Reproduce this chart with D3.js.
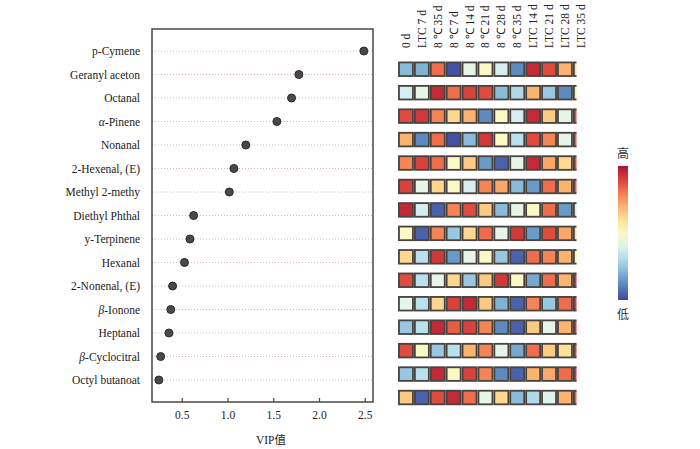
<!DOCTYPE html>
<html lang="zh">
<head>
	<meta charset="utf-8">
	<title>VIP lollipop + heatmap</title>
	<script src="https://d3js.org/d3.v7.min.js"></script>
	<style type="text/css">
		body{ margin:0; background:#fff; }
		svg{ font-family: "Liberation Serif", "Times New Roman", serif; }
	</style>
</head>
<body>
	<svg id="chart" width="700" height="449"></svg>

	<script type="text/javascript">

	// compounds, top to bottom
	var compounds = ["p-Cymene", "Geranyl aceton", "Octanal", "α-Pinene", "Nonanal",
		"2-Hexenal, (E)", "Methyl 2-methy", "Diethyl Phthal", "y-Terpinene", "Hexanal",
		"2-Nonenal, (E)", "β-Ionone", "Heptanal", "β-Cyclocitral", "Octyl butanoat"]

	// VIP values
	var vip = [2.49, 1.78, 1.70, 1.54, 1.20, 1.07, 1.02, 0.63, 0.59, 0.53, 0.40, 0.38, 0.36, 0.27, 0.25]

	var vipTicks = [0.5, 1.0, 1.5, 2.0, 2.5]

	// heatmap columns
	var groups = ["0 d", "LTC 7 d", "8 ℃ 35 d", "8 ℃ 7 d", "8 ℃ 14 d", "8 ℃ 21 d",
		"8 ℃ 28 d", "8 ℃ 35 d", "LTC 14 d", "LTC 21 d", "LTC 28 d", "LTC 35 d"]

	// relative level per compound (0 = low/blue, 1 = high/red), one row per compound
	var levels = [
		[0.22, 0.20, 0.82, 0.02, 0.42, 0.50, 0.38, 0.12, 0.95, 0.88, 0.70, 0.60],
		[0.38, 0.42, 0.95, 0.82, 0.90, 0.88, 0.22, 0.30, 0.70, 0.25, 0.12, 0.56],
		[0.88, 0.92, 0.78, 0.62, 0.70, 0.12, 0.50, 0.38, 0.95, 0.65, 0.42, 0.88],
		[0.70, 0.12, 0.82, 0.02, 0.22, 0.92, 0.50, 0.32, 0.88, 0.78, 0.42, 0.85],
		[0.78, 0.90, 0.82, 0.50, 0.65, 0.15, 0.05, 0.42, 0.95, 0.72, 0.62, 0.88],
		[0.90, 0.42, 0.62, 0.50, 0.38, 0.78, 0.72, 0.22, 0.15, 0.82, 0.70, 0.85],
		[0.95, 0.38, 0.05, 0.78, 0.88, 0.65, 0.22, 0.42, 0.50, 0.82, 0.15, 0.38],
		[0.50, 0.05, 0.78, 0.25, 0.62, 0.82, 0.42, 0.92, 0.15, 0.88, 0.72, 0.60],
		[0.62, 0.32, 0.92, 0.15, 0.42, 0.50, 0.25, 0.05, 0.82, 0.78, 0.70, 0.56],
		[0.88, 0.32, 0.42, 0.62, 0.25, 0.65, 0.92, 0.50, 0.18, 0.82, 0.70, 0.92],
		[0.42, 0.32, 0.62, 0.90, 0.95, 0.65, 0.20, 0.05, 0.78, 0.25, 0.82, 0.90],
		[0.25, 0.32, 0.95, 0.85, 0.90, 0.78, 0.12, 0.05, 0.65, 0.42, 0.70, 0.92],
		[0.88, 0.50, 0.25, 0.32, 0.70, 0.78, 0.42, 0.18, 0.82, 0.65, 0.60, 0.90],
		[0.25, 0.32, 0.95, 0.50, 0.90, 0.78, 0.12, 0.05, 0.70, 0.72, 0.82, 0.92],
		[0.65, 0.05, 0.88, 0.95, 0.82, 0.42, 0.62, 0.22, 0.30, 0.40, 0.70, 0.85]
	]

	var svg = d3.select("#chart")

	// ---- lollipop panel ----
	var frame = {left:152, right:373, top:29, bottom:402}

	var x = d3.scaleLinear()
		.domain([0.175, 2.59])
		.range([frame.left, frame.right])

	var y = d3.scalePoint()
		.domain(compounds)
		.range([51, 380])

	// dotted guide lines
	svg.append("g")
		.selectAll("line")
		.data(compounds)
		.join("line")
		.attr("x1", frame.left)
		.attr("x2", frame.right)
		.attr("y1", d => y(d))
		.attr("y2", d => y(d))
		.attr("stroke", "#d4b0b3")
		.attr("stroke-width", 0.9)
		.attr("stroke-dasharray", "1,2")

	// frame
	svg.append("rect")
		.attr("x", frame.left)
		.attr("y", frame.top)
		.attr("width", frame.right - frame.left)
		.attr("height", frame.bottom - frame.top)
		.attr("fill", "none")
		.attr("stroke", "#4a4a4a")
		.attr("stroke-width", 1.5)

	// bottom axis, ticks pointing inward
	var xAxis = svg.append("g")
		.attr("transform", "translate(0," + frame.bottom + ")")
		.call(d3.axisBottom(x).tickValues(vipTicks).tickFormat(d3.format(".1f")).tickSizeInner(-4).tickSizeOuter(0).tickPadding(9))
	xAxis.select(".domain").remove()
	xAxis.selectAll("line").attr("stroke", "#4a4a4a").attr("stroke-width", 1.2)
	xAxis.selectAll("text")
		.attr("font-family", "Liberation Serif, serif")
		.attr("font-size", 11.5)
		.attr("fill", "#222")

	svg.append("text")
		.attr("x", 271)
		.attr("y", 444)
		.attr("text-anchor", "middle")
		.attr("font-size", 11.5)
		.attr("fill", "#222")
		.text("VIP")
		.append("tspan")
		.attr("font-family", "Noto Sans CJK SC")
		.attr("font-size", 11.5)
		.text("值")

	// compound labels (greek letters italic)
	svg.append("g")
		.selectAll("text")
		.data(compounds)
		.join("text")
		.attr("x", 140)
		.attr("y", d => y(d) + 4)
		.attr("text-anchor", "end")
		.attr("font-size", 11.5)
		.attr("fill", "#222")
		.each(function(d){
			var t = d3.select(this)
			var first = d.charAt(0)
			if(first === "α" || first === "β"){
				t.append("tspan").attr("font-style", "italic").text(first)
				t.append("tspan").text(d.slice(1))
			} else {
				t.text(d)
			}
		})

	// dots
	svg.append("g")
		.selectAll("circle")
		.data(compounds)
		.join("circle")
		.attr("cx", (d, i) => x(vip[i]))
		.attr("cy", d => y(d))
		.attr("r", 4)
		.attr("fill", "#4d4848")
		.attr("stroke", "#2e2a2a")
		.attr("stroke-width", 1)

	// ---- heatmap panel ----
	var color = t => d3.interpolateRdYlBu(1 - t)

	var hx = d3.scaleBand()
		.domain(d3.range(groups.length))
		.range([398, 398 + 15.9 * groups.length])
		.paddingInner(0.12)
		.paddingOuter(0.06)

	var hy = d3.scaleBand()
		.domain(compounds)
		.range([57.5, 57.5 + 23.45 * compounds.length])
		.paddingInner(0.42)
		.paddingOuter(0.21)

	svg.append("clipPath")
		.attr("id", "hclip")
		.append("rect")
		.attr("x", 390)
		.attr("y", 50)
		.attr("width", 576.5 - 390)
		.attr("height", 370)

	var cells = []
	levels.forEach(function(row, r){
		row.forEach(function(v, c){
			cells.push({r:r, c:c, v:v})
		})
	})

	svg.append("g")
		.attr("clip-path", "url(#hclip)")
		.selectAll("rect")
		.data(cells)
		.join("rect")
		.attr("x", d => hx(d.c))
		.attr("y", d => hy(compounds[d.r]))
		.attr("width", hx.bandwidth())
		.attr("height", hy.bandwidth())
		.attr("fill", d => color(d.v))
		.attr("fill-opacity", 0.92)
		.attr("stroke", "#48433e")
		.attr("stroke-width", 1.8)

	// column labels, rotated
	svg.append("g")
		.selectAll("text")
		.data(groups)
		.join("text")
		.attr("transform", (d, i) => "translate(" + (hx(i) + hx.bandwidth() / 2 + 4) + ",48) rotate(-90)")
		.attr("text-anchor", "start")
		.attr("font-size", 11.5)
		.attr("fill", "#222")
		.text(d => d)

	// ---- colour legend ----
	var grad = svg.append("defs").append("linearGradient")
		.attr("id", "lg")
		.attr("x1", "0%").attr("y1", "100%")
		.attr("x2", "0%").attr("y2", "0%")
	d3.range(0, 1.0001, 0.1).forEach(function(t){
		grad.append("stop")
			.attr("offset", (t * 100) + "%")
			.attr("stop-color", color(t))
	})

	var legendScale = d3.scaleLinear().domain([0, 1]).range([300, 166])

	svg.append("rect")
		.attr("x", 618)
		.attr("y", legendScale(1))
		.attr("width", 10)
		.attr("height", legendScale(0) - legendScale(1))
		.attr("fill", "url(#lg)")
		.attr("fill-opacity", 0.92)

	svg.append("text")
		.attr("x", 623)
		.attr("y", legendScale(1) - 8)
		.attr("text-anchor", "middle")
		.attr("font-family", "Noto Sans CJK SC")
		.attr("font-size", 12)
		.attr("fill", "#333")
		.text("高")

	svg.append("text")
		.attr("x", 623)
		.attr("y", legendScale(0) + 19)
		.attr("text-anchor", "middle")
		.attr("font-family", "Noto Sans CJK SC")
		.attr("font-size", 12)
		.attr("fill", "#333")
		.text("低")

	</script>
</body>
</html>
